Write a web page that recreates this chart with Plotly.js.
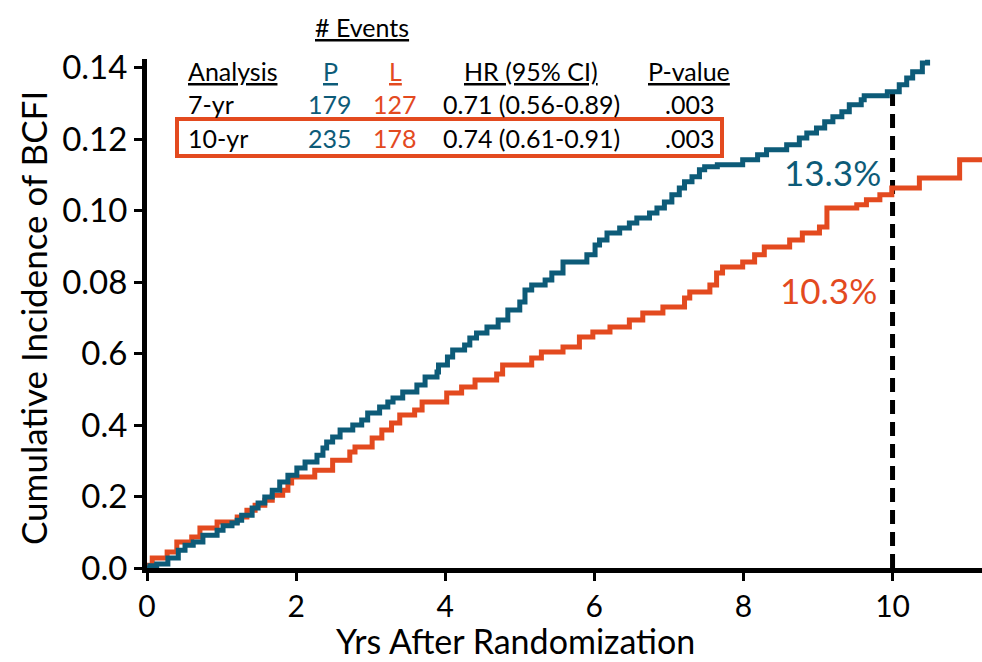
<!DOCTYPE html>
<html>
<head>
<meta charset="utf-8">
<script src="https://cdn.plot.ly/plotly-3.0.1.min.js"></script>
<style>html,body{margin:0;padding:0;background:#fff;}#chart{width:982px;height:662px;}</style>
</head>
<body>
<div id="chart"></div>
<script>
// ---- Data ----
const blueName = "P";
const blueX = [0, 0.04, 0.13, 0.28, 0.42, 0.51, 0.62, 0.75, 0.94, 1.02,
  1.14, 1.21, 1.27, 1.41, 1.49, 1.58, 1.68, 1.78, 1.89, 2.01,
  2.12, 2.28, 2.36, 2.41, 2.49, 2.59, 2.76, 2.88, 2.96, 3.12,
  3.23, 3.30, 3.43, 3.62, 3.73, 3.89, 3.91, 4.03, 4.10, 4.26,
  4.33, 4.42, 4.56, 4.71, 4.84, 5.00, 5.07, 5.16, 5.34, 5.43,
  5.58, 5.90, 6.01, 6.07, 6.17, 6.34, 6.47, 6.57, 6.74, 6.84,
  6.94, 7.04, 7.14, 7.21, 7.31, 7.41, 7.48, 7.65, 7.99, 8.19,
  8.31, 8.58, 8.75, 8.85, 8.98, 9.09, 9.20, 9.32, 9.42, 9.58,
  9.62, 9.93, 10.09, 10.19, 10.27, 10.40, 10.47];
const blueY = [0, .0006, .0011, .0028, .0050, .0064, .0073, .0092, .0106, .0118,
  .0126, .0134, .0148, .0168, .0182, .0199, .0218, .0241, .0260, .0280,
  .0297, .0316, .0336, .0353, .0367, .0386, .0400, .0414, .0434, .0451,
  .0465, .0476, .0493, .0512, .0535, .0549, .0568, .0591, .0610, .0624,
  .0644, .0658, .0675, .0694, .0722, .0745, .0778, .0792, .0806, .0826,
  .0857, .0877, .0904, .0918, .0938, .0952, .0966, .0980, .0994, .1008,
  .1025, .1045, .1064, .1081, .1095, .1115, .1123, .1129, .1143, .1157,
  .1171, .1185, .1204, .1218, .1232, .1249, .1263, .1277, .1297, .1311,
  .1322, .1333, .1353, .1372, .1389, .1414, .1423];

const orangeName = "L";
const orangeX = [0, 0.07, 0.27, 0.40, 0.60, 0.71, 0.94, 1.21, 1.34, 1.45,
  1.58, 1.68, 1.82, 1.89, 1.94, 2.25, 2.49, 2.72, 2.79, 3.02,
  3.15, 3.28, 3.39, 3.59, 3.69, 4.02, 4.22, 4.40, 4.69, 4.77,
  5.16, 5.29, 5.58, 5.80, 5.98, 6.21, 6.47, 6.65, 6.92, 7.21,
  7.28, 7.55, 7.64, 7.72, 7.99, 8.15, 8.28, 8.62, 8.79, 9.02,
  9.12, 9.52, 9.65, 9.83, 9.99, 10.36, 10.90, 11.2];
const orangeY = [.0008, .0028, .0045, .0073, .0087, .0112, .0129, .0143, .0162, .0176,
  .0190, .0204, .0218, .0238, .0255, .0274, .0302, .0325, .0339, .0364,
  .0386, .0406, .0428, .0442, .0465, .0490, .0507, .0526, .0543, .0568,
  .0588, .0605, .0619, .0647, .0661, .0675, .0694, .0714, .0731, .0756,
  .0773, .0792, .0826, .0843, .0857, .0877, .0899, .0918, .0938, .0955,
  .1008, .1017, .1031, .1045, .1064, .1092, .1143, .1143];

const xTickVals = [0, 2, 4, 6, 8, 10];
const xTickText = ["0", "2", "4", "6", "8", "10"];
const yTickVals = [0, 0.02, 0.04, 0.06, 0.08, 0.10, 0.12, 0.14];
const yTickText = ["0.0", "0.2", "0.4", "0.6", "0.08", "0.10", "0.12", "0.14"];

const landmarkYear = 10;
const blueLabel = "13.3%";
const orangeLabel = "10.3%";

const xTitle = "Yrs After Randomization";
const yTitle = "Cumulative Incidence of BCFI";

const tableHeader = "# Events";
const tableColumns = ["Analysis", "P", "L", "HR (95% CI)", "P-value"];
const tableRow1 = ["7-yr", "179", "127", "0.71 (0.56-0.89)", ".003"];
const tableRow2 = ["10-yr", "235", "178", "0.74 (0.61-0.91)", ".003"];

// ---- Styling ----
const BLUE = "#0d5b78";
const ORANGE = "#e34a1f";
const FONT = "Lato, 'Open Sans', sans-serif";

const L = 147, T = 59, W = 835, H = 509;
const px = v => (v - L) / W;          // pixel x -> paper x
const py = v => (T + H - v) / H;      // pixel y -> paper y

// value of blue curve at the landmark year (step function)
let blueAtLandmark = 0;
for (let i = 0; i < blueX.length; i++) if (blueX[i] <= landmarkYear) blueAtLandmark = blueY[i];

const traces = [
  {x: orangeX, y: orangeY, name: orangeName, type: "scatter", mode: "lines",
   line: {shape: "hv", color: ORANGE, width: 5}, hoverinfo: "skip"},
  {x: blueX, y: blueY, name: blueName, type: "scatter", mode: "lines",
   line: {shape: "hv", color: BLUE, width: 5}, hoverinfo: "skip"}
];

const colX = [186, 330, 395, 531, 689];
const colAnchor = ["left", "center", "center", "center", "center"];
const colColor = ["#000", BLUE, ORANGE, "#000", "#000"];
const rowY = [71, 104, 138];
const TS = 25;

const annotations = [];
function addText(text, x, y, anchor, color, size) {
  annotations.push({xref: "paper", yref: "paper", x: px(x), y: py(y), text: text,
    xanchor: anchor, yanchor: "middle", showarrow: false,
    font: {family: FONT, size: size, color: color}});
}
addText("<u>" + tableHeader + "</u>", 362, 27, "center", "#000", TS);
tableColumns.forEach((t, i) => addText("<u>" + t + "</u>", colX[i], rowY[0], colAnchor[i], colColor[i], TS));
tableRow1.forEach((t, i) => addText(t, colX[i], rowY[1], colAnchor[i], colColor[i], TS));
tableRow2.forEach((t, i) => addText(t, colX[i], rowY[2], colAnchor[i], colColor[i], TS));

addText(blueLabel, 832, 172, "center", BLUE, 35);
addText(orangeLabel, 828, 290, "center", ORANGE, 35);

addText(xTitle, 515, 640, "center", "#000", 34);
annotations.push({xref: "paper", yref: "paper", x: px(33), y: py(318), text: yTitle,
  textangle: -90, xanchor: "center", yanchor: "middle", showarrow: false,
  font: {family: FONT, size: 35, color: "#000"}});

const shapes = [
  {type: "line", xref: "x", yref: "y", x0: landmarkYear, x1: landmarkYear, y0: 0, y1: blueAtLandmark,
   line: {color: "#000", width: 5, dash: "14px,8px"}, layer: "below"},
  {type: "rect", xref: "paper", yref: "paper", x0: px(177), x1: px(722), y0: py(156), y1: py(119),
   line: {color: ORANGE, width: 4}, fillcolor: "rgba(0,0,0,0)"}
];

const axisCommon = {
  showline: true, linecolor: "#000", linewidth: 5,
  ticks: "outside", ticklen: 8, tickwidth: 3, tickcolor: "#000",
  showgrid: false, zeroline: false, mirror: false, fixedrange: true
};

const layout = {
  width: 982, height: 662,
  margin: {l: L, r: 982 - L - W, t: T, b: 662 - T - H},
  paper_bgcolor: "#fff", plot_bgcolor: "#fff",
  showlegend: false,
  xaxis: Object.assign({}, axisCommon, {range: [0, 11.2], tickmode: "array",
    tickvals: xTickVals, ticktext: xTickText,
    tickfont: {family: FONT, size: 30, color: "#000"}}),
  yaxis: Object.assign({}, axisCommon, {range: [0, 0.1425], tickmode: "array",
    tickvals: yTickVals, ticktext: yTickText,
    tickfont: {family: FONT, size: 33, color: "#000"}}),
  annotations: annotations,
  shapes: shapes
};

Plotly.newPlot("chart", traces, layout, {displayModeBar: false, staticPlot: true});
</script>
</body>
</html>
